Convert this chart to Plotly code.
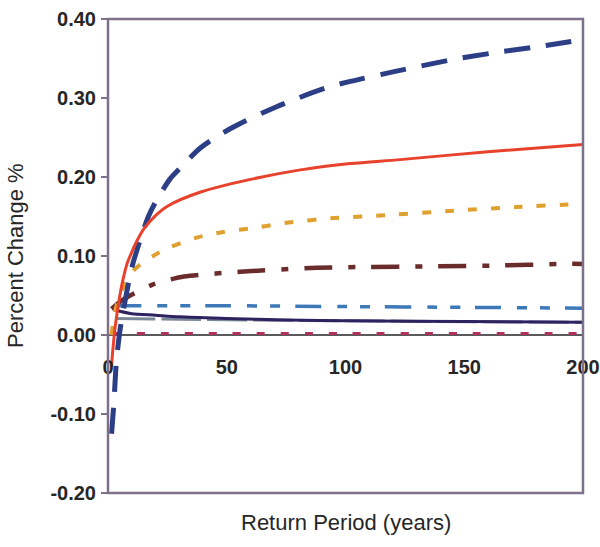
import plotly.graph_objects as go

# ---- data ----
navy_x = [1.5, 2.5, 3.5, 5, 7, 10, 13.5, 17, 20, 26, 30, 39, 52, 71, 92, 102, 120, 144, 162, 181, 200]
navy_y = [-0.125, -0.085, -0.035, 0.005, 0.04, 0.085, 0.12, 0.15, 0.168, 0.197, 0.21, 0.237, 0.262,
          0.289, 0.313, 0.321, 0.333, 0.348, 0.357, 0.365, 0.374]

red_x = [1.5, 2, 3, 5, 6.3, 8, 10, 12, 15, 20, 25, 39, 60, 81, 102, 123, 160, 200]
red_y = [-0.04, -0.02, 0.01, 0.05, 0.07, 0.09, 0.105, 0.118, 0.134, 0.151, 0.163, 0.181, 0.197,
         0.209, 0.217, 0.222, 0.232, 0.241]

orange_x = [1.5, 3, 5, 10.5, 19, 26, 37, 48, 62.5, 75, 95, 113, 144, 172, 200]
orange_y = [0.0, 0.03, 0.05, 0.081, 0.10, 0.111, 0.123, 0.13, 0.136, 0.142, 0.148, 0.151, 0.157,
            0.162, 0.166]

maroon_x = [1.5, 5, 9.3, 19, 26, 32, 55.6, 88, 106, 137, 165, 192, 200]
maroon_y = [0.033, 0.042, 0.05, 0.064, 0.07, 0.074, 0.08, 0.085, 0.086, 0.087, 0.088, 0.09, 0.09]

steel_x = [3, 50, 100, 150, 200]
steel_y = [0.037, 0.037, 0.036, 0.035, 0.034]

slate_x = [3, 30, 100, 200]
slate_y = [0.021, 0.02, 0.018, 0.016]

purple_x = [2, 5, 10, 20, 30, 50, 75, 100, 150, 200]
purple_y = [0.033, 0.03, 0.027, 0.025, 0.023, 0.021, 0.019, 0.018, 0.017, 0.016]

crimson_x = [2, 50, 100, 150, 200]
crimson_y = [0.002, 0.002, 0.002, 0.002, 0.002]

x_ticks = [0, 50, 100, 150, 200]
y_ticks = [-0.20, -0.10, 0.00, 0.10, 0.20, 0.30, 0.40]
y_tick_labels = ["-0.20", "-0.10", "0.00", "0.10", "0.20", "0.30", "0.40"]

FONT = "Liberation Sans, Arial, sans-serif"
FRAME = "#7D7088"
TXT = "#262626"

series = [
    (slate_x, slate_y, "#7A8898", 3, "40px,6px"),
    (crimson_x, crimson_y, "#B0305E", 3, "8px,16px"),
    (purple_x, purple_y, "#2E2360", 3, "solid"),
    (steel_x, steel_y, "#3D78B8", 3.5, "26px,16px,10px,13px,10px,15px"),
    (maroon_x, maroon_y, "#6A2C2C", 4.5, "28px,16px,7px,16px"),
    (orange_x, orange_y, "#E0A030", 4, "9px,14px"),
    (navy_x, navy_y, "#2C3E86", 5, "26px,16px"),
    (red_x, red_y, "#E8412C", 3, "solid"),
]

fig = go.Figure()
for xs, ys, col, w, dash in series:
    fig.add_trace(go.Scatter(x=xs, y=ys, mode="lines",
                             line=dict(color=col, width=w, dash=dash, shape="spline", smoothing=0.8),
                             showlegend=False, hoverinfo="skip", cliponaxis=True))

fig.update_layout(
    width=600, height=547,
    margin=dict(l=108, r=17, t=19, b=54),
    paper_bgcolor="white", plot_bgcolor="white",
    font=dict(family=FONT, color=TXT),
    xaxis=dict(range=[0, 200], tickvals=x_ticks, ticktext=[str(v) for v in x_ticks],
               anchor="free", position=1/3, showgrid=False, zeroline=False, showline=False,
               ticks="", ticklabelstandoff=18, automargin=False,
               tickfont=dict(family=FONT, size=20, color=TXT, weight="bold")),
    yaxis=dict(range=[-0.2, 0.4], tickvals=y_ticks, ticktext=y_tick_labels,
               showgrid=False, zeroline=True, zerolinecolor="#5A5A5A", zerolinewidth=1.5,
               showline=False, ticks="outside", ticklen=6, tickwidth=2, tickcolor=FRAME,
               ticklabelstandoff=1, automargin=False,
               tickfont=dict(family=FONT, size=20, color=TXT, weight="bold")),
)

fig.add_shape(type="rect", xref="paper", yref="paper", x0=0, x1=1, y0=0, y1=1,
              line=dict(color=FRAME, width=2.5), layer="above")

fig.add_annotation(text="Percent Change %", xref="paper", yref="paper", x=(15 - 108) / 475, y=0.5,
                   xanchor="center", yanchor="middle", textangle=-90, showarrow=False,
                   font=dict(family=FONT, size=22, color=TXT))
fig.add_annotation(text="Return Period (years)", xref="paper", yref="paper", x=0.5, y=-29 / 474,
                   xanchor="center", yanchor="middle", showarrow=False,
                   font=dict(family=FONT, size=22, color=TXT))

fig.write_html("out.html")
